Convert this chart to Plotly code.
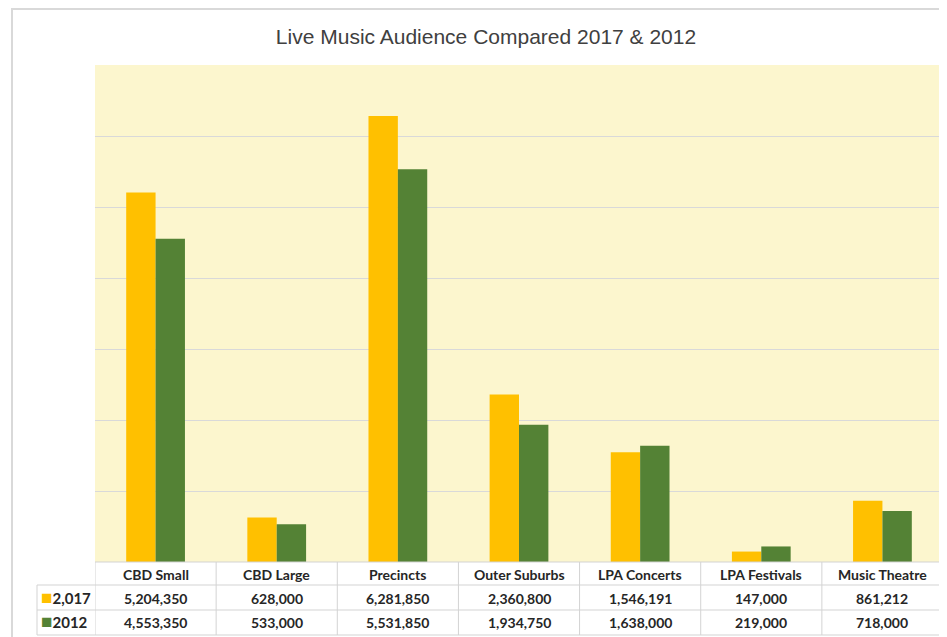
import plotly.graph_objects as go

categories = ["CBD Small", "CBD Large", "Precincts", "Outer Suburbs",
              "LPA Concerts", "LPA Festivals", "Music Theatre"]
series_names = ["2,017", "2012"]
values_2017 = [5204350, 628000, 6281850, 2360800, 1546191, 147000, 861212]
values_2012 = [4553350, 533000, 5531850, 1934750, 1638000, 219000, 718000]
colors = ["#FFC000", "#548235"]
title = "Live Music Audience Compared 2017 & 2012"

OFF = 8  # page body margin
W, H = 947 - OFF, 637 - OFF
plot_left, plot_right, plot_top, plot_bottom = 95, 943, 65, 562  # in window pixels
L = plot_left - OFF
R = W - (plot_right - OFF)
T = plot_top - OFF
B = H - (plot_bottom - OFF)
plot_h = plot_bottom - plot_top
plot_w = plot_right - plot_left

def py(px):
    # window pixel y -> paper y
    return (plot_bottom - px) / plot_h

def pxx(px):
    return (px - plot_left) / plot_w

fig = go.Figure()
for name, vals, col in zip(series_names, [values_2017, values_2012], colors):
    fig.add_trace(go.Bar(x=list(range(len(categories))), y=vals, name=name,
                         marker=dict(color=col, line=dict(width=0))))

grid = "#D3D3D3"
shapes = []
annotations = []
n = len(categories)
row_px = [562, 585, 610, 635]
for rp in row_px:
    shapes.append(dict(type="line", xref="x", yref="paper", x0=-0.5, x1=n - 0.5,
                       y0=py(rp), y1=py(rp), line=dict(color=grid, width=1)))
for rp in row_px[1:]:
    shapes.append(dict(type="line", xref="paper", yref="paper", x0=pxx(37), x1=0,
                       y0=py(rp), y1=py(rp), line=dict(color=grid, width=1)))
for i in range(n + 1):
    shapes.append(dict(type="line", xref="x", yref="paper", x0=i - 0.5, x1=i - 0.5,
                       y0=py(562), y1=py(635), line=dict(color=grid, width=1)))
shapes.append(dict(type="line", xref="paper", yref="paper", x0=pxx(37), x1=pxx(37),
                   y0=py(585), y1=py(635), line=dict(color=grid, width=1)))
# outer chart border
shapes.append(dict(type="line", xref="paper", yref="paper", x0=pxx(11), x1=pxx(960),
                   y0=py(9), y1=py(9), line=dict(color="#D9D9D9", width=2)))
shapes.append(dict(type="line", xref="paper", yref="paper", x0=pxx(12), x1=pxx(12),
                   y0=py(8), y1=py(650), line=dict(color="#D9D9D9", width=2)))

tfont = dict(family="Lato, Open Sans, sans-serif", size=14, color="#262626")
text_y = [py(574), py(598), py(622)]
legend_y = [py(596), py(620)]
for i, c in enumerate(categories):
    annotations.append(dict(x=i, y=text_y[0], xref="x", yref="paper", text=f"<b>{c}</b>",
                            showarrow=False, font=tfont, xanchor="center", yanchor="middle"))
    annotations.append(dict(x=i, y=text_y[1], xref="x", yref="paper", text=f"<b>{values_2017[i]:,}</b>",
                            showarrow=False, font=tfont, xanchor="center", yanchor="middle"))
    annotations.append(dict(x=i, y=text_y[2], xref="x", yref="paper", text=f"<b>{values_2012[i]:,}</b>",
                            showarrow=False, font=tfont, xanchor="center", yanchor="middle"))
for k, (name, col) in enumerate(zip(series_names, colors)):
    annotations.append(dict(x=pxx(39), y=legend_y[k], xref="paper", yref="paper",
                            text=f"<span style='color:{col};font-size:19px'>■</span><b>{name}</b>",
                            showarrow=False, font=dict(family=tfont["family"], size=15, color="#262626"),
                            xanchor="left", yanchor="middle"))

fig.update_layout(
    width=W, height=H,
    margin=dict(l=L, r=R, t=T, b=B),
    paper_bgcolor="white",
    plot_bgcolor="#FCF6CE",
    barmode="group",
    bargap=0.515,
    bargroupgap=0,
    showlegend=False,
    title=dict(text=title, x=(486 - OFF) / W, xref="container", xanchor="center",
               y=1 - (37 - OFF) / H, yref="container", yanchor="middle",
               font=dict(family="Liberation Sans, Arial, sans-serif", size=21, color="#404040")),
    xaxis=dict(range=[-0.5, n - 0.5], showticklabels=False, showgrid=False,
               zeroline=False, showline=False, ticks=""),
    yaxis=dict(range=[0, 7000000], dtick=1000000, showticklabels=False,
               showgrid=True, gridcolor="#D9D9D9", gridwidth=1, zeroline=False,
               showline=False, ticks=""),
    shapes=shapes,
    annotations=annotations,
)

fig.write_html("out.html")
